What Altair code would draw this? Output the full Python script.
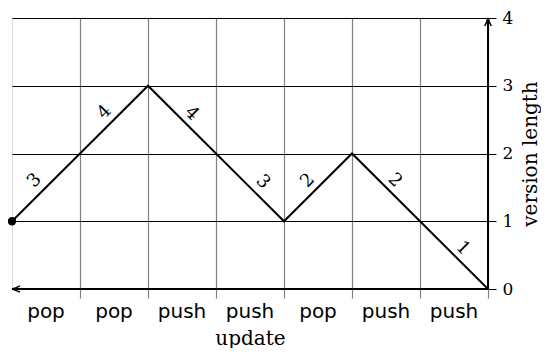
import altair as alt
import pandas as pd

# --- data ---
updates = ["pop", "pop", "push", "push", "pop", "push", "push"]
step = [0, 1, 2, 3, 4, 5, 6, 7]
version_length = [1, 2, 3, 2, 1, 2, 1, 0]
seg_labels = ["3", "4", "4", "3", "2", "2", "1"]
seg_label_x = [0.33, 1.36, 2.64, 3.69, 4.35, 5.63, 6.63]
seg_label_y = [1.60, 2.61, 2.59, 1.58, 1.60, 1.60, 0.60]
seg_label_angle = [315, 315, 45, 45, 315, 45, 45]
y_ticks = [0, 1, 2, 3, 4]
x_grid = [1, 2, 3, 4, 5, 6, 7]

line_df = pd.DataFrame({"x": step, "y": version_length})
cat_df = pd.DataFrame({"pos": [i + 0.5 for i in range(len(updates))], "label": updates})
lab_df = pd.DataFrame({"x": seg_label_x, "y": seg_label_y, "t": seg_labels, "a": seg_label_angle})

W, H = 476, 271
xs = alt.Scale(domain=[0, 7], nice=False, zero=False)
ys = alt.Scale(domain=[0, 4], nice=False, zero=False)

serif = "'DejaVu Serif', 'Liberation Serif', serif"
sans = "'DejaVu Sans', sans-serif"

base_line = alt.Chart(line_df).mark_line(color="black", strokeWidth=2).encode(
    x=alt.X("x:Q", scale=xs,
            axis=alt.Axis(values=x_grid, grid=True, gridColor="#808080", gridWidth=1.2,
                          ticks=True, tickColor="#808080", tickWidth=1.2, tickSize=9,
                          labels=False, domain=False, title="update",
                          titleFont=serif, titleFontSize=20, titleFontWeight="normal",
                          titleColor="black", titleX=W / 2, titleY=49,
                          titleBaseline="middle", titleAlign="center")),
    y=alt.Y("y:Q", scale=ys,
            axis=alt.Axis(orient="right", values=y_ticks, format="d", grid=True,
                          gridColor="black", gridWidth=1, ticks=True, tickColor="black",
                          tickWidth=1, tickSize=8, labelFont=serif, labelFontSize=17,
                          labelColor="black", labelPadding=6, domain=False,
                          title="version length", titleFont=serif, titleFontSize=20,
                          titleFontWeight="normal", titleColor="black", titleAngle=270,
                          titleX=42, titleY=H / 2, titleBaseline="middle",
                          titleAlign="center")),
)

axis_df = pd.DataFrame({"x0": [0], "x1": [7], "y0": [0], "y1": [4]})
x_axis_line = alt.Chart(axis_df).mark_rule(color="black", strokeWidth=2).encode(
    x=alt.X("x0:Q", scale=xs), x2="x1:Q", y=alt.Y("y0:Q", scale=ys))
y_axis_line = alt.Chart(axis_df).mark_rule(color="black", strokeWidth=2).encode(
    x=alt.X("x1:Q", scale=xs), y=alt.Y("y0:Q", scale=ys), y2="y1:Q")

left_arrow = alt.Chart(axis_df).mark_point(
    shape="M 2 -0.8 Q 0.8 -0.2 0 0 Q 0.8 0.2 2 0.8", filled=False, size=64,
    stroke="black", strokeWidth=1.5, opacity=1).encode(
    x=alt.X("x0:Q", scale=xs), y=alt.Y("y0:Q", scale=ys))
up_arrow = alt.Chart(axis_df).mark_point(
    shape="M -0.8 2 Q -0.2 0.8 0 0 Q 0.2 0.8 0.8 2", filled=False, size=64,
    stroke="black", strokeWidth=1.5, opacity=1).encode(
    x=alt.X("x1:Q", scale=xs), y=alt.Y("y1:Q", scale=ys))

dot = alt.Chart(line_df.iloc[[0]]).mark_point(filled=True, color="black", size=70, opacity=1).encode(
    x=alt.X("x:Q", scale=xs), y=alt.Y("y:Q", scale=ys))

seg_text = alt.Chart(lab_df).mark_text(font=serif, fontSize=18, color="black",
                                       align="center", baseline="middle").encode(
    x=alt.X("x:Q", scale=xs), y=alt.Y("y:Q", scale=ys), text="t:N",
    angle=alt.Angle("a:Q", scale=None))

cat_text = alt.Chart(cat_df).mark_text(font=sans, fontSize=20, color="black",
                                       align="center", baseline="alphabetic", dy=29).encode(
    x=alt.X("pos:Q", scale=xs), y=alt.datum(0), text="label:N")

chart = alt.layer(base_line, x_axis_line, y_axis_line, left_arrow, up_arrow, dot,
                  seg_text, cat_text).properties(
    width=W, height=H,
    autosize=alt.AutoSizeParams(type="none"),
    padding={"left": 4, "top": 10, "right": 53, "bottom": 59},
).configure_view(stroke=None).configure(background="white")

chart.save("out.html", embed_options={"renderer": "svg", "actions": False})
